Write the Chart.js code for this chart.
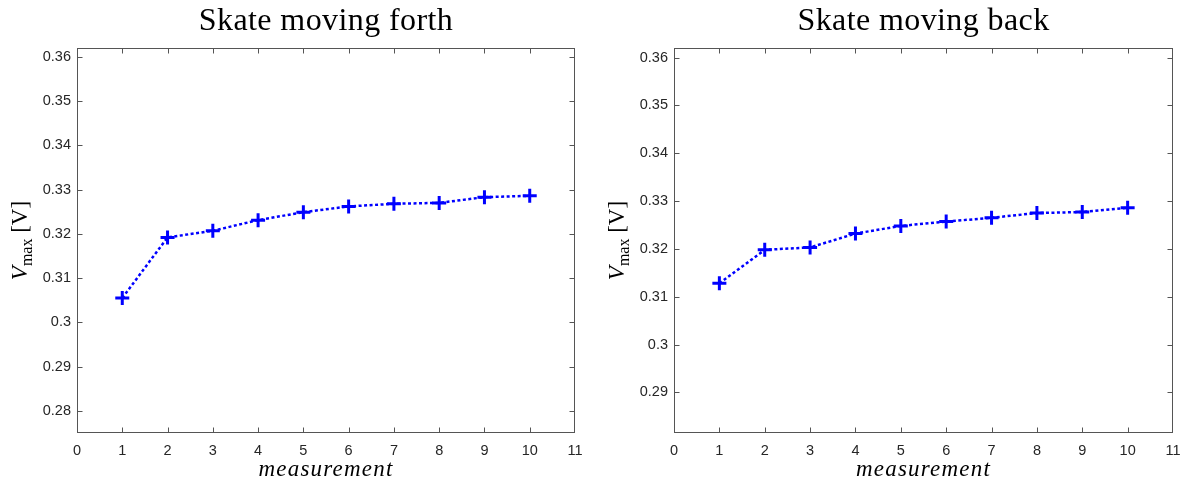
<!DOCTYPE html>
<html>
<head>
<meta charset="utf-8">
<script src="https://cdn.jsdelivr.net/npm/chart.js@4.4.1/dist/chart.umd.min.js"></script>
<style>
  html, body { margin: 0; padding: 0; background: #fff; }
  #wrap { position: relative; width: 1186px; height: 483px; }
  canvas { position: absolute; top: 0; }
</style>
</head>
<body>
<div id="wrap">
  <canvas id="forth" width="593" height="483" style="left:0"></canvas>
  <canvas id="back" width="593" height="483" style="left:593px"></canvas>
</div>
<script>
const measurements = [1, 2, 3, 4, 5, 6, 7, 8, 9, 10];
const vmaxForth = [0.3055, 0.3192, 0.3207, 0.3231, 0.3249, 0.3262, 0.3268, 0.3270, 0.3283, 0.3286];
const vmaxBack  = [0.3128, 0.3198, 0.3203, 0.3232, 0.3248, 0.3257, 0.3265, 0.3275, 0.3277, 0.3286];

// tick labels
const xTicks = [0, 1, 2, 3, 4, 5, 6, 7, 8, 9, 10, 11];
const yTicksForth = [0.28, 0.29, 0.30, 0.31, 0.32, 0.33, 0.34, 0.35, 0.36];
const yTicksBack  = [0.29, 0.30, 0.31, 0.32, 0.33, 0.34, 0.35, 0.36];

const titles = ['Skate moving forth', 'Skate moving back'];
const xLabel = 'measurement';

const AXIS = '#262626';
const BLUE = '#0000ff';

// matlab-ish box with inward ticks, plus titles / axis labels
const matlabFrame = {
  id: 'matlabFrame',
  afterDraw(chart, args, opts) {
    const { ctx, chartArea: a, scales } = chart;
    const L = Math.round(a.left) + 0.5, R = Math.round(a.right) - 0.5;
    const T = Math.round(a.top) + 0.5, B = Math.round(a.bottom) - 0.5;
    const tl = 5;
    ctx.save();
    ctx.strokeStyle = '#555';
    ctx.lineWidth = 1;
    ctx.strokeRect(L, T, R - L, B - T);
    ctx.beginPath();
    scales.x.ticks.forEach(t => {
      const px = Math.round(scales.x.getPixelForValue(t.value)) + 0.5;
      if (px <= L || px >= R) return;
      ctx.moveTo(px, B); ctx.lineTo(px, B - tl);
      ctx.moveTo(px, T); ctx.lineTo(px, T + tl);
    });
    scales.y.ticks.forEach(t => {
      const py = Math.round(scales.y.getPixelForValue(t.value)) + 0.5;
      ctx.moveTo(L, py); ctx.lineTo(L + tl, py);
      ctx.moveTo(R, py); ctx.lineTo(R - tl, py);
    });
    ctx.stroke();

    const cx = (a.left + a.right) / 2;
    ctx.fillStyle = '#000';
    ctx.textAlign = 'center';
    ctx.textBaseline = 'alphabetic';
    ctx.letterSpacing = '0.4px';
    ctx.font = '32px "Liberation Serif"';
    ctx.fillText(opts.title, cx, 30);

    ctx.letterSpacing = '1.2px';
    ctx.font = 'italic 23px "Liberation Serif"';
    ctx.fillText(xLabel, cx, 476);
    ctx.letterSpacing = '0px';

    // y label: V_max [V]
    const parts = [
      { t: 'V', f: 'italic 23px "Liberation Serif"', dy: 0 },
      { t: 'max', f: '16px "Liberation Serif"', dy: 5 },
      { t: ' [V]', f: '23px "Liberation Serif"', dy: 0 }
    ];
    let total = 0;
    parts.forEach(p => { ctx.font = p.f; p.w = ctx.measureText(p.t).width; total += p.w; });
    ctx.translate(opts.ylabelX, (a.top + a.bottom) / 2);
    ctx.rotate(-Math.PI / 2);
    ctx.textAlign = 'left';
    let x = -total / 2;
    parts.forEach(p => { ctx.font = p.f; ctx.fillText(p.t, x, p.dy); x += p.w; });
    ctx.restore();
  }
};

function makeChart(id, values, yTicks, yMin, yMax, yWidth, padRight, title, ylabelX) {
  return new Chart(document.getElementById(id), {
    type: 'line',
    data: {
      datasets: [{
        data: measurements.map((m, i) => ({ x: m, y: values[i] })),
        borderColor: BLUE,
        borderWidth: 2.5,
        borderDash: [3, 2.5],
        borderCapStyle: 'butt',
        pointStyle: 'cross',
        pointRadius: 7,
        pointBorderWidth: 3,
        pointBorderColor: BLUE,
        pointBackgroundColor: BLUE,
        tension: 0,
        fill: false
      }]
    },
    options: {
      responsive: false,
      animation: false,
      events: [],
      layout: { padding: { top: 48, right: padRight, left: 0, bottom: 0 } },
      plugins: {
        legend: { display: false },
        tooltip: { enabled: false },
        matlabFrame: { title: title, ylabelX: ylabelX }
      },
      scales: {
        x: {
          type: 'linear',
          min: 0, max: 11,
          grid: { display: false, drawTicks: false },
          border: { display: false },
          afterBuildTicks: s => { s.ticks = xTicks.map(v => ({ value: v })); },
          afterFit: s => { s.height = 50; s.paddingLeft = 0; s.paddingRight = 0; },
          ticks: {
            padding: 9,
            color: AXIS,
            font: { family: 'Liberation Sans', size: 14.5 },
            maxRotation: 0,
            callback: v => String(v)
          }
        },
        y: {
          type: 'linear',
          min: yMin, max: yMax,
          grid: { display: false, drawTicks: false },
          border: { display: false },
          afterBuildTicks: s => { s.ticks = yTicks.map(v => ({ value: v })); },
          afterFit: s => { s.width = yWidth; s.paddingTop = 0; s.paddingBottom = 0; },
          ticks: {
            padding: 6,
            color: AXIS,
            font: { family: 'Liberation Sans', size: 14.5 },
            callback: v => String(+Number(v).toFixed(2))
          }
        }
      }
    },
    plugins: [matlabFrame]
  });
}

makeChart('forth', vmaxForth, yTicksForth, 0.275, 0.362, 77, 18, titles[0], 27);
makeChart('back', vmaxBack, yTicksBack, 0.2815, 0.362, 81, 13, titles[1], 31);
</script>
</body>
</html>
